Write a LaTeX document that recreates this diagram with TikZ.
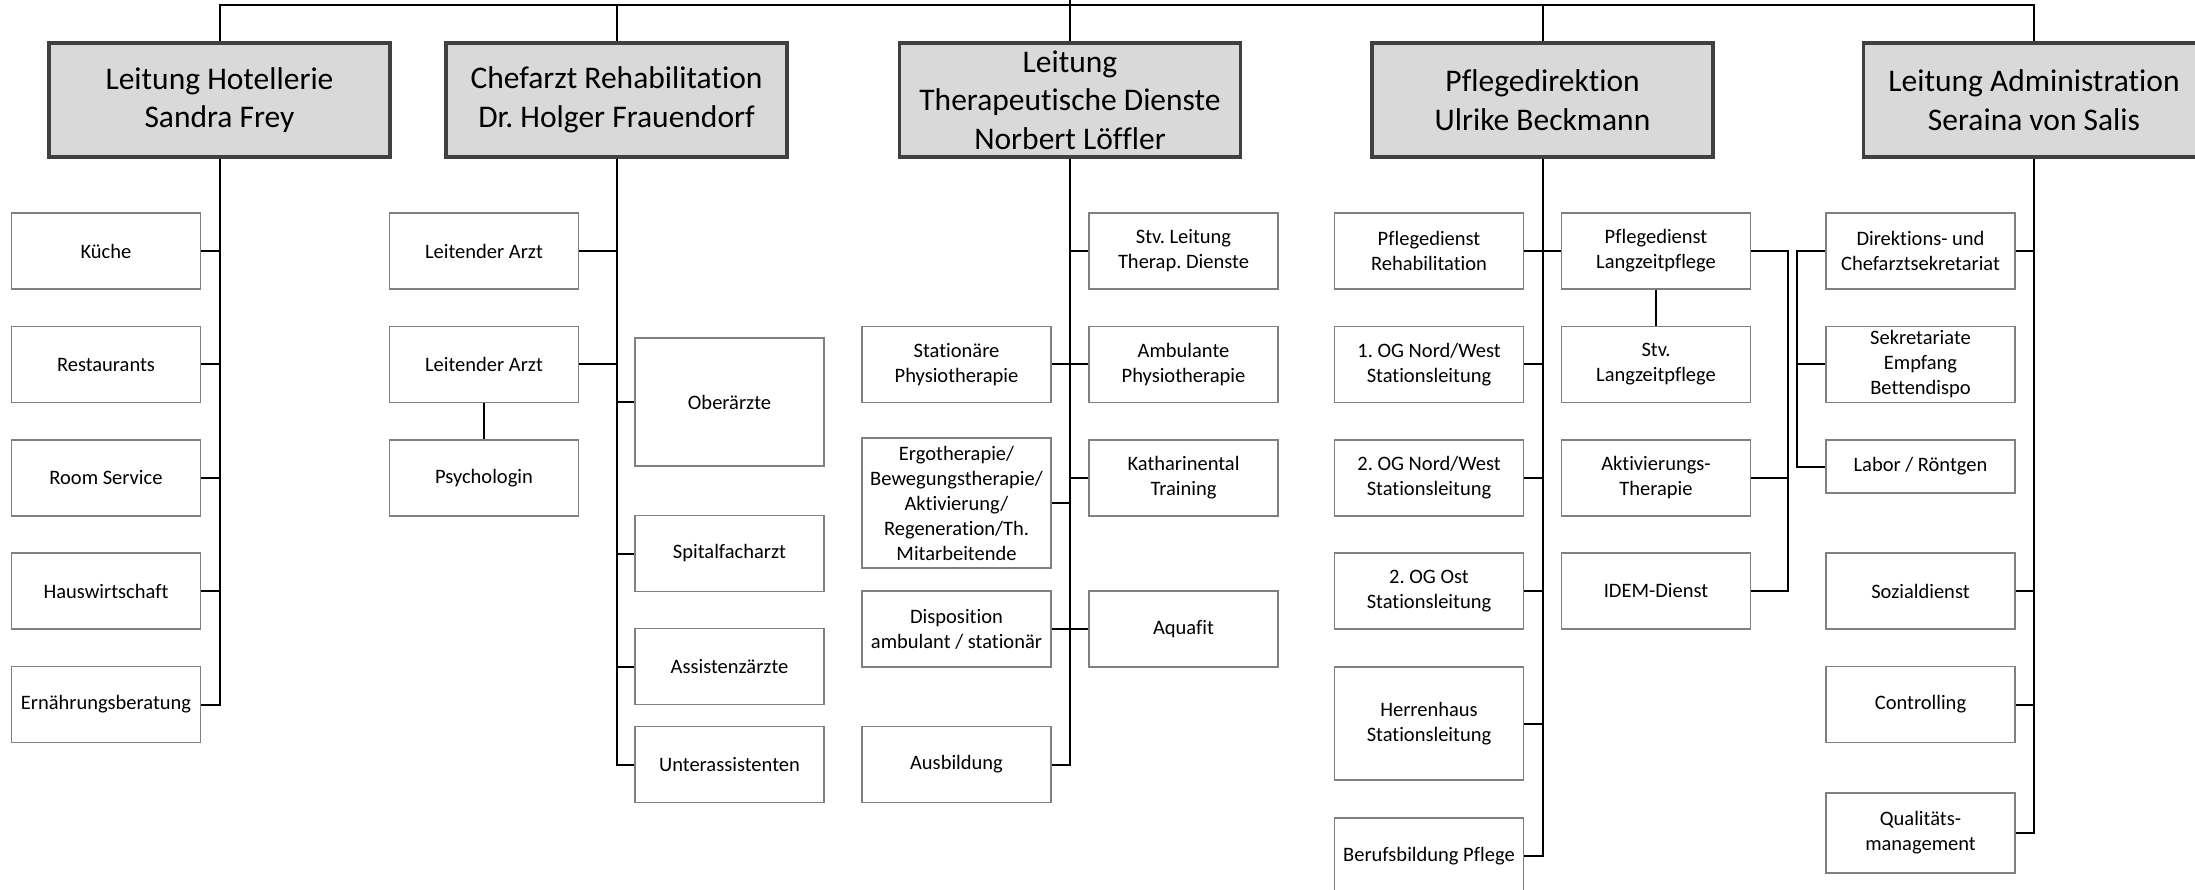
\documentclass[tikz,border=0pt]{standalone}
\usepackage{fontspec}
\setmainfont{Carlito}[Ligatures=NoCommon]
\usepackage{tikz}
\frenchspacing

\begin{document}
\begin{tikzpicture}[x=1pt,y=-1pt,
  lead/.style={draw=black!75,line width=3.5pt,fill=black!15,minimum width=341pt,
    minimum height=114pt,inner sep=0pt,align=center,font=\fontsize{31.5}{38.5}\selectfont},
  unit/.style={draw=black!50,line width=1.3pt,fill=white,minimum width=189pt,
    minimum height=76pt,inner sep=0pt,align=center,font=\fontsize{20.5}{25}\selectfont},
  link/.style={line width=2pt}]
\useasboundingbox (0,0) rectangle (2195,890);
\clip (0,0) rectangle (2195,890);

% heads
\node[lead] (hot) at (219.5,100) {Leitung Hotellerie\\Sandra Frey};
\node[lead] (chef) at (616.5,100) {Chefarzt Rehabilitation\\Dr. Holger Frauendorf};
\node[lead] (ther) at (1070,100) {Leitung\\Therapeutische Dienste\\Norbert Löffler};
\node[lead] (pfl) at (1542.5,100) {Pflegedirektion\\Ulrike Beckmann};
\node[lead] (adm) at (2034,100) {Leitung Administration\\Seraina von Salis};
\coordinate (roof) at (1070,0);
\coordinate (top) at (1070,5);
\draw[link] (hot.north) |- (top) -| (adm.north);
\draw[link] (chef.north) |- (top);
\draw[link] (pfl.north) |- (top);
\draw[link] (ther.north) -- (roof);

% Hotellerie
\node[unit] (kue) at (106,251) {Küche};
\node[unit] (rest) at (106,364.5) {Restaurants};
\node[unit] (room) at (106,478) {Room Service};
\node[unit] (haus) at (106,591) {Hauswirtschaft};
\node[unit] (ern) at (106,704.5) {Ernährungsberatung};
\foreach \n in {kue,rest,room,haus,ern}
  \draw[link] (hot.south) |- (\n.east);

% Rehabilitation
\node[unit] (la1) at (484,251) {Leitender Arzt};
\node[unit] (la2) at (484,364.5) {Leitender Arzt};
\node[unit] (psy) at (484,478) {Psychologin};
\node[unit,minimum height=128pt] (ober) at (729.5,402) {Oberärzte};
\node[unit] (spit) at (729.5,553.5) {Spitalfacharzt};
\node[unit] (assi) at (729.5,666.5) {Assistenzärzte};
\node[unit] (unter) at (729.5,764.5) {Unterassistenten};
\foreach \n in {la1,la2}
  \draw[link] (chef.south) |- (\n.east);
\foreach \n in {ober,spit,assi,unter}
  \draw[link] (chef.south) |- (\n.west);
\draw[link] (la2) -- (psy);

% Therapeutische Dienste
\node[unit] (stvl) at (1183.5,251) {Stv. Leitung\\Therap. Dienste};
\node[unit] (amb) at (1183.5,364.5) {Ambulante\\Physiotherapie};
\node[unit] (kath) at (1183.5,478) {Katharinental\\Training};
\node[unit] (aqua) at (1183.5,629) {Aquafit};
\node[unit] (stat) at (956.5,364.5) {Stationäre\\Physiotherapie};
\node[unit,minimum height=130pt] (ergo) at (956.5,503)
  {Ergotherapie/\\Bewegungstherapie/\\Aktivierung/\\Regeneration/Th.\\Mitarbeitende};
\node[unit] (dispo) at (956.5,629) {Disposition\\ambulant / stationär};
\node[unit] (ausb) at (956.5,764.5) {Ausbildung};
\foreach \n in {stvl,amb,kath,aqua}
  \draw[link] (ther.south) |- (\n.west);
\foreach \n in {stat,ergo,dispo,ausb}
  \draw[link] (ther.south) |- (\n.east);

% Pflege
\node[unit] (reha) at (1429,251) {Pflegedienst\\Rehabilitation};
\node[unit] (og1) at (1429,364.5) {1. OG Nord/West\\Stationsleitung};
\node[unit] (og2) at (1429,478) {2. OG Nord/West\\Stationsleitung};
\node[unit] (ost) at (1429,591) {2. OG Ost\\Stationsleitung};
\node[unit,minimum height=113pt] (herr) at (1429,723.5) {Herrenhaus\\Stationsleitung};
\node[unit] (beruf) at (1429,856) {Berufsbildung Pflege};
\node[unit] (lang) at (1656,251) {Pflegedienst\\Langzeitpflege};
\node[unit] (stvlz) at (1656,364.5) {Stv.\\Langzeitpflege};
\node[unit] (akt) at (1656,478) {Aktivierungs-\\Therapie};
\node[unit] (idem) at (1656,591) {IDEM-Dienst};
\foreach \n in {reha,og1,og2,ost,herr,beruf}
  \draw[link] (pfl.south) |- (\n.east);
\draw[link] (pfl.south) |- (lang.west);
\draw[link] (lang) -- (stvlz);
\coordinate (langbus) at (1788,251);
\draw[link] (lang.east) -- (langbus) |- (idem.east);
\draw[link] (langbus) |- (akt.east);

% Administration
\node[unit] (dir) at (1920.5,251) {Direktions- und\\Chefarztsekretariat};
\node[unit] (sek) at (1920.5,364.5) {Sekretariate\\Empfang\\Bettendispo};
\node[unit,minimum height=53pt] (lab) at (1920.5,466.5) {Labor / Röntgen};
\node[unit] (sozi) at (1920.5,591) {Sozialdienst};
\node[unit] (contr) at (1920.5,704.5) {Controlling};
\node[unit,minimum height=80pt] (quali) at (1920.5,833) {Qualitäts-\\management};
\foreach \n in {dir,sozi,contr,quali}
  \draw[link] (adm.south) |- (\n.east);
\coordinate (dirbus) at (1797,251);
\draw[link] (dir.west) -- (dirbus) |- (lab.west);
\draw[link] (dirbus) |- (sek.west);
\end{tikzpicture}
\end{document}
